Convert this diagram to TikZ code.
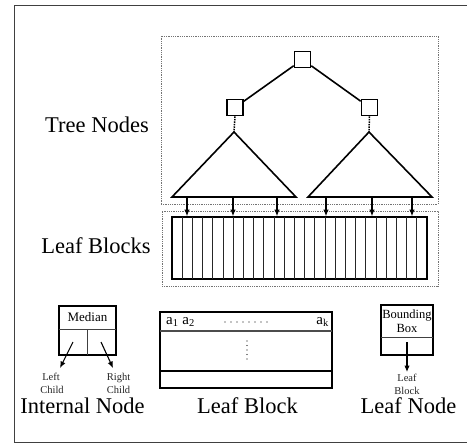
\documentclass[tikz,border=0pt]{standalone}
\usepackage{fontspec}
\setmainfont{Liberation Serif}
\usetikzlibrary{arrows.meta}
\begin{document}
\begin{tikzpicture}[x=1pt,y=-1pt,
  thickbox/.style={draw, line width=1.6pt, inner sep=0pt},
  sq/.style={draw, line width=1.6pt, minimum size=16pt, inner sep=0pt},
  bigtext/.style={font=\fontsize{22.5}{25}\selectfont, inner sep=0pt},
  smalltext/.style={font=\fontsize{10.5}{12}\selectfont, inner sep=0pt, text=black!85},
  midtext/.style={font=\fontsize{12.5}{14}\selectfont, inner sep=0pt},
  dotbox/.style={draw=black!55, densely dotted, line width=0.8pt, inner sep=0pt},
  arr/.style={-{Latex[length=6.5pt,width=5.5pt]}, line width=1.1pt},
  edge/.style={line width=1.6pt},
  grid/.style={line width=1pt, draw=black!85},
  dotrow/.style={line width=1.1pt, line cap=round, dash pattern=on 0pt off 6pt}]

\useasboundingbox (0,0) rectangle (467,445);
\draw[line width=0.9pt, draw=black!75] (480,5) -- (14,5) -- (14,442) -- (480,442);

% dotted frames
\node[dotbox, minimum width=277pt, minimum height=168pt] (treebox) at (299.5,120) {};
\node[dotbox, minimum width=276pt, minimum height=75pt] (leafbox) at (300,248.5) {};

% labels
\node[bigtext, anchor=base] (tnlabel) at (97,132) {Tree Nodes};
\node[bigtext, anchor=base] (lblabel) at (96,253) {Leaf Blocks};

% tree
\node[sq] (root) at (302.5,59.5) {};
\node[sq] (lc) at (235,107.5) {};
\node[sq] (rc) at (369.5,107.5) {};
\draw[edge] (root) -- (lc);
\draw[edge] (root) -- (rc);

\coordinate (la) at (234,132);
\coordinate (lbl) at (172,197);
\coordinate (lbr) at (296,197);
\coordinate (ra) at (369,132);
\coordinate (rbl) at (308,197);
\coordinate (rbr) at (432,197);
\draw[edge, line join=miter] (la) -- (lbl) -- (lbr) -- cycle;
\draw[edge, line join=miter] (ra) -- (rbl) -- (rbr) -- cycle;
\draw[line width=1.5pt, densely dotted] (lc.south) -- (la);
\draw[line width=1.5pt, densely dotted] (rc.south) -- (ra);

% leaf block array
\node[thickbox, minimum width=255pt, minimum height=62pt] (arr) at (299.5,248) {};
\foreach \i in {1,...,24}
  \draw[grid] (172+\i*10.2,217) -- (172+\i*10.2,279);

\foreach \x [count=\k] in {187,233,277,326,372,412} {
  \coordinate (t\k) at (\x,197);
  \draw[arr] (t\k) -- (t\k |- arr.north);
}

% internal node
\node[thickbox, minimum width=57pt, minimum height=49pt] (inode) at (87.5,330.5) {};
\draw[line width=0.8pt, draw=black!75] (59,329) -- (116,329);
\draw[line width=0.8pt, draw=black!75] (87.7,329) -- (87.7,355);
\node[midtext, font=\fontsize{13}{15}\selectfont] (median) at (87.5,317.5) {Median};
\coordinate (ls) at (73,342);
\coordinate (le) at (60,368);
\coordinate (rs) at (101,342);
\coordinate (re) at (113,368);
\draw[arr] (ls) -- (le);
\draw[arr] (rs) -- (re);
\node[smalltext, anchor=base] (left) at (51,380) {Left};
\node[smalltext, anchor=base] (lchild) at (52,393) {Child};
\node[smalltext, anchor=base] (right) at (118.5,380) {Right};
\node[smalltext, anchor=base] (rchild) at (118.5,393) {Child};
\node[bigtext, anchor=base] (inlabel) at (82.5,413) {Internal Node};

% leaf block detail
\node[thickbox, minimum width=172pt, minimum height=76pt] (blk) at (246,350) {};
\draw[line width=1.1pt, draw=black!70] (160,331) -- (332,331);
\draw[line width=1.4pt] (160,371) -- (332,371);
\node[font=\fontsize{15}{17}\selectfont, inner sep=0pt, anchor=base west] (a12) at (166,324) {a\textsubscript{1} a\textsubscript{2}};
\node[font=\fontsize{15}{17}\selectfont, inner sep=0pt, anchor=base east] (ak) at (329,324) {a\textsubscript{k}};
\draw[dotrow] (225,322) -- (268,322);
\draw[dotrow, dash pattern=on 0pt off 4.5pt] (247,341) -- (247,360);
\node[bigtext, anchor=base] (blklabel) at (247.5,413) {Leaf Block};

% leaf node
\node[thickbox, minimum width=52pt, minimum height=50pt] (lnode) at (407,330) {};
\draw[line width=0.8pt, draw=black!75] (381,337) -- (433,337);
\node[midtext, anchor=base] (bounding) at (407,318) {Bounding};
\node[midtext, anchor=base] (bbox) at (407,332) {Box};
\node[smalltext, anchor=base] (leaf) at (407,381.5) {Leaf};
\node[smalltext, anchor=base] (block) at (407,394.5) {Block};
\coordinate (bs) at (407,342);
\draw[arr] (bs) -- (407,372);
\node[bigtext, anchor=base] (lnlabel) at (408.5,413) {Leaf Node};
\end{tikzpicture}
\end{document}
